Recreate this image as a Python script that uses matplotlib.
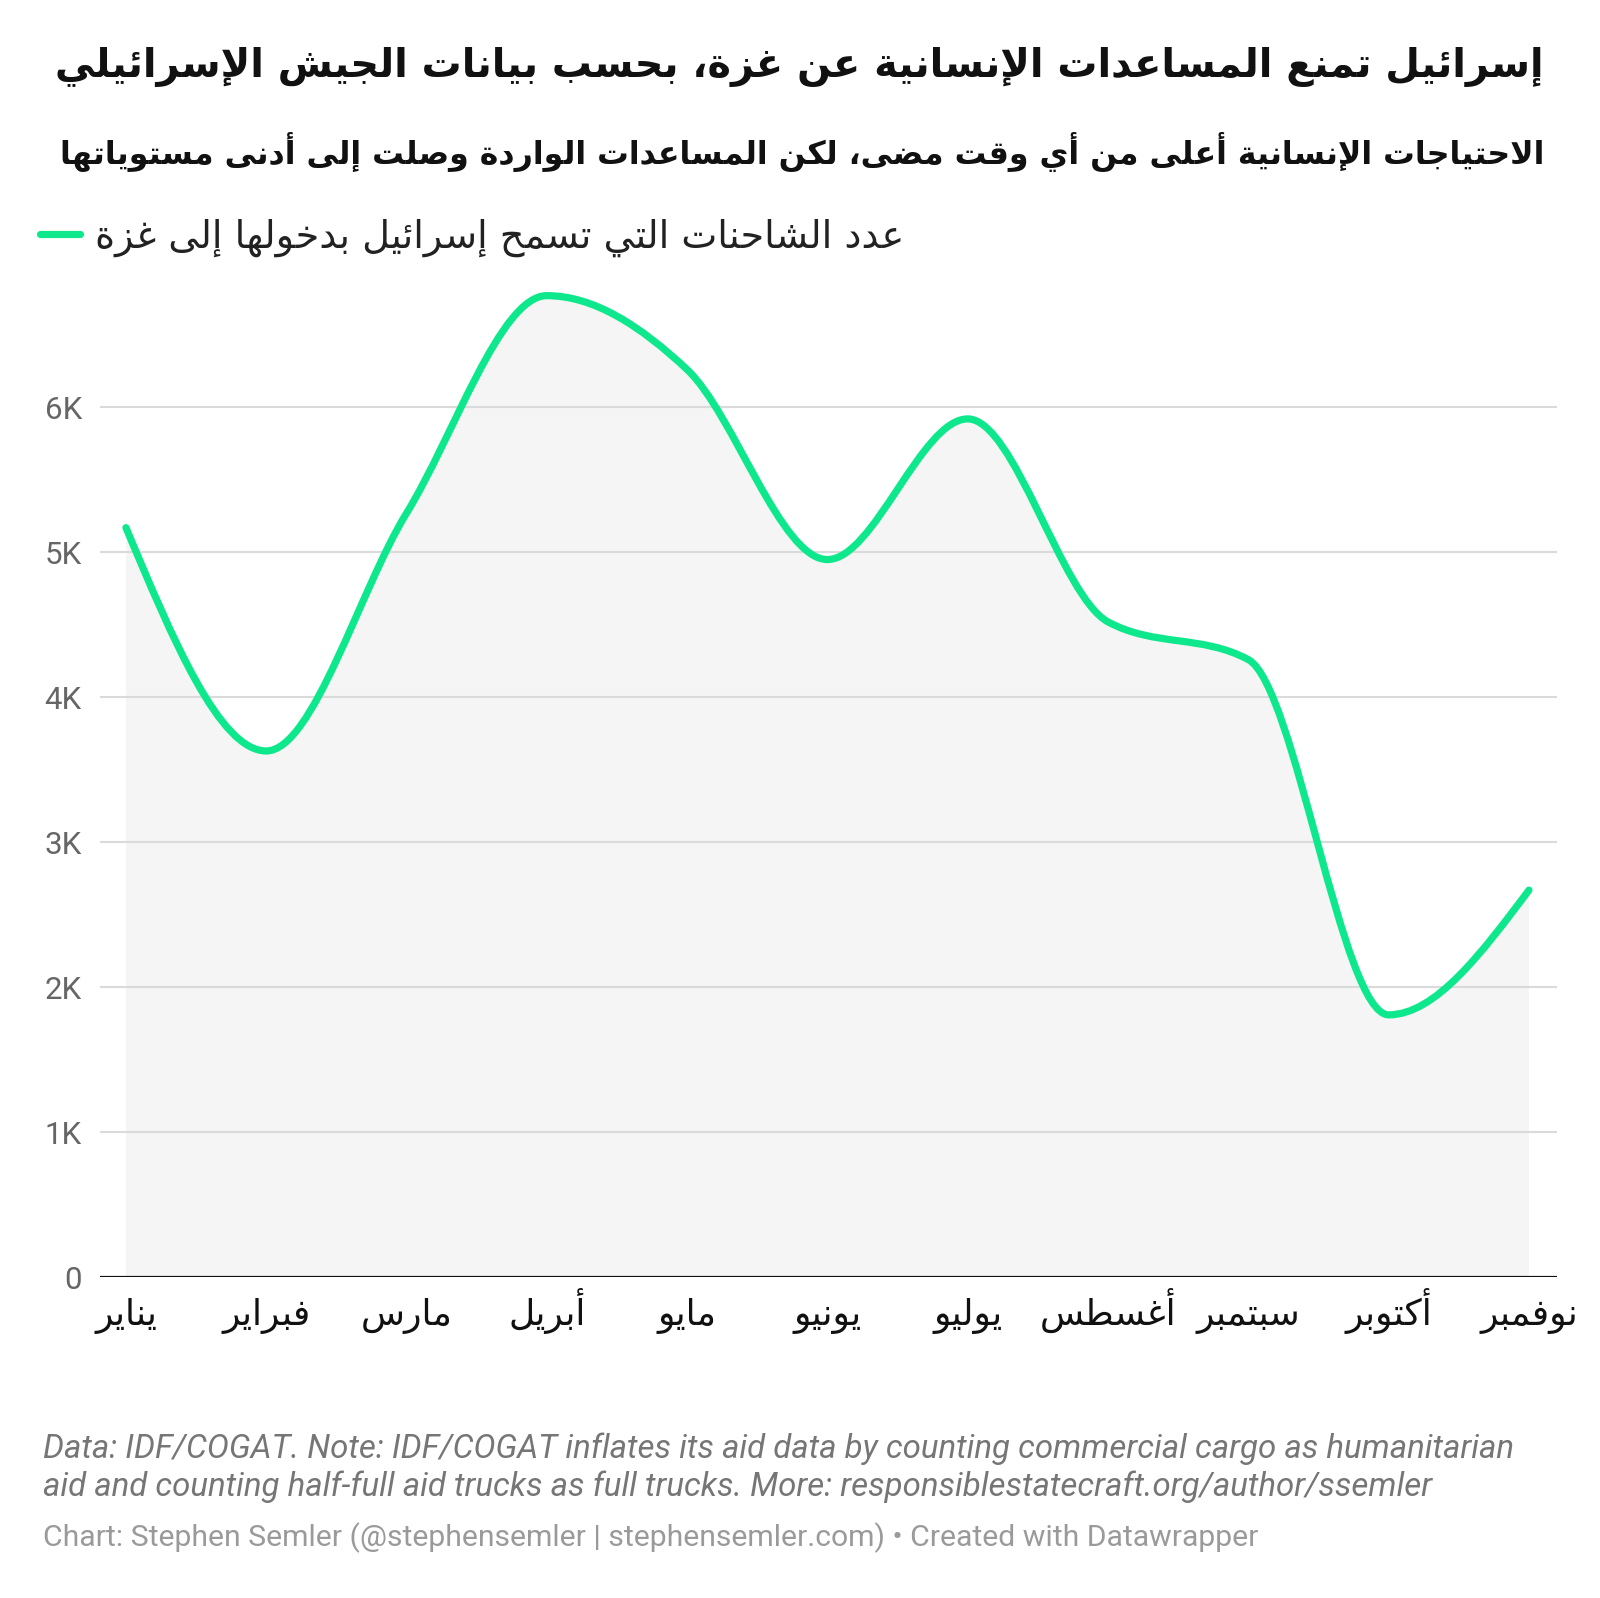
import numpy as np
import matplotlib
matplotlib.use("Agg")
import matplotlib.pyplot as plt
from matplotlib.path import Path
from matplotlib.patches import PathPatch
from matplotlib.lines import Line2D

# chart texts and values
title = "إسرائيل تمنع المساعدات الإنسانية عن غزة، بحسب بيانات الجيش الإسرائيلي"
subtitle = "الاحتياجات الإنسانية أعلى من أي وقت مضى، لكن المساعدات الواردة وصلت إلى أدنى مستوياتها"
series_name = "عدد الشاحنات التي تسمح إسرائيل بدخولها إلى غزة"
months = ["يناير", "فبراير", "مارس", "أبريل", "مايو", "يونيو",
          "يوليو", "أغسطس", "سبتمبر", "أكتوبر", "نوفمبر"]
trucks = [5170, 3630, 5270, 6770, 6260, 4950, 5920, 4520, 4260, 1810, 2670]
y_ticks = [0, 1000, 2000, 3000, 4000, 5000, 6000]
y_tick_labels = ["0", "1K", "2K", "3K", "4K", "5K", "6K"]
note_lines = [
    "Data: IDF/COGAT. Note: IDF/COGAT inflates its aid data by counting commercial cargo as humanitarian",
    "aid and counting half-full aid trucks as full trucks. More: responsiblestatecraft.org/author/ssemler",
]
credit = "Chart: Stephen Semler (@stephensemler | stephensemler.com) \u2022 Created with Datawrapper"

GREEN = "#0de88c"
W, H = 1600, 1598

# matplotlib has no arabic shaping, so pick presentation forms by hand
ARABIC = "ءآأؤإئابةتثجحخدذرزسشصضطظعغفقكلمنهوىي"
N_FORMS = [1, 2, 2, 2, 2, 4, 2, 4, 2, 4, 4, 4, 4, 4, 2, 2, 2, 2,
           4, 4, 4, 4, 4, 4, 4, 4, 4, 4, 4, 4, 4, 4, 4, 2, 2, 4]
FORMS = {}
code = 0xFE80
for ch, n in zip(ARABIC, N_FORMS):
    FORMS[ch] = (code, n)
    code += n
LAM_ALEF = {"آ": 0xFEF5, "أ": 0xFEF7, "إ": 0xFEF9, "ا": 0xFEFB}


def ar(text):
    units = []
    i = 0
    while i < len(text):
        c = text[i]
        if c == "ل" and i + 1 < len(text) and text[i + 1] in LAM_ALEF:
            units.append((LAM_ALEF[text[i + 1]], 2))
            i += 2
        elif c in FORMS:
            units.append(FORMS[c])
            i += 1
        else:
            units.append((c, 0))
            i += 1
    out = []
    for j, (base, n) in enumerate(units):
        if n == 0:
            out.append(base)
            continue
        prev = n >= 2 and j > 0 and units[j - 1][1] == 4
        nxt = n == 4 and j + 1 < len(units) and units[j + 1][1] >= 2
        idx = 3 if (prev and nxt) else 2 if nxt else 1 if prev else 0
        out.append(chr(base + idx))
    return "".join(out)[::-1]


def monotone_tangents(x, y):
    # same slopes as d3.curveMonotoneX
    n = len(x)
    t = np.zeros(n)
    for i in range(1, n - 1):
        h0, h1 = x[i] - x[i - 1], x[i + 1] - x[i]
        s0, s1 = (y[i] - y[i - 1]) / h0, (y[i + 1] - y[i]) / h1
        p = (s0 * h1 + s1 * h0) / (h0 + h1)
        t[i] = (np.sign(s0) + np.sign(s1)) * min(abs(s0), abs(s1), 0.5 * abs(p))
    t[0] = (3 * (y[1] - y[0]) / (x[1] - x[0]) - t[1]) / 2
    t[-1] = (3 * (y[-1] - y[-2]) / (x[-1] - x[-2]) - t[-2]) / 2
    return t


def fit_width(txt, target_px):
    # scale font so the rendered text is target_px wide
    r = fig.canvas.get_renderer()
    w = txt.get_window_extent(r).width
    txt.set_fontsize(txt.get_fontsize() * target_px / w)


x = np.arange(len(trucks), dtype=float)
y = np.array(trucks, dtype=float)
t = monotone_tangents(x, y)
verts = [(x[0], y[0])]
codes = [Path.MOVETO]
for i in range(len(x) - 1):
    dx = (x[i + 1] - x[i]) / 3
    verts += [(x[i] + dx, y[i] + dx * t[i]),
              (x[i + 1] - dx, y[i + 1] - dx * t[i + 1]),
              (x[i + 1], y[i + 1])]
    codes += [Path.CURVE4] * 3
line_path = Path(verts, codes)
area_path = Path(verts + [(x[-1], 0), (x[0], 0), (x[0], y[0])],
                 codes + [Path.LINETO, Path.LINETO, Path.CLOSEPOLY])

fig = plt.figure(figsize=(W / 100, H / 100), dpi=100, facecolor="white")

# axes placed in pixel terms of the reference
ax_left, ax_right, ax_top, ax_bottom = 100, 1557, 262.3, 1277.3
ax = fig.add_axes([ax_left / W, 1 - ax_bottom / H,
                   (ax_right - ax_left) / W, (ax_bottom - ax_top) / H])
ax.set_xlim(-0.185, 10.2)
ax.set_ylim(0, 7000)
for s in ax.spines.values():
    s.set_visible(False)

for v in y_ticks[1:]:
    ax.axhline(v, color="#dadada", lw=1.5, zorder=1)
ax.add_patch(PathPatch(area_path, facecolor="#f5f5f5", edgecolor="none", zorder=0.5))
ax.axhline(0, color="#111111", lw=2.3, zorder=3)
ax.add_patch(PathPatch(line_path, fill=False, edgecolor=GREEN, lw=5.2,
                       capstyle="round", joinstyle="round", zorder=4))

ax.set_yticks(y_ticks, y_tick_labels)
ax.tick_params(axis="y", length=0, pad=13, labelsize=22.5, labelcolor="#666666")
for lab in ax.get_yticklabels():
    lab.set_fontfamily("Roboto")

# month labels share one baseline, as in the reference
ax.set_xticks(x, [""] * len(x))
ax.tick_params(axis="x", length=0)
base_y = (ax_bottom - 1325) / (ax_bottom - ax_top)
for xi, m in zip(x, months):
    ax.text(xi, base_y, ar(m), transform=ax.get_xaxis_transform(),
            ha="center", va="baseline", fontsize=26, family="DejaVu Sans",
            color="#111111", clip_on=False)

# header
t_title = fig.text(1544 / W, 1 - 67 / H, ar(title), ha="right", va="center",
                   fontsize=28, fontweight="bold", family="DejaVu Sans", color="#111111")
t_sub = fig.text(1544 / W, 1 - 153 / H, ar(subtitle), ha="right", va="center",
                 fontsize=23, fontweight="bold", family="DejaVu Sans", color="#111111")

handle = Line2D([], [], color=GREEN, lw=5.2, solid_capstyle="round")
leg = fig.legend([handle], [ar(series_name)], loc="center left",
                 bbox_to_anchor=(40 / W, 1 - 238 / H), frameon=False,
                 borderpad=0, borderaxespad=0, handlelength=1.05, handletextpad=0.4,
                 prop={"family": "DejaVu Sans", "size": 27.5})
for txt in leg.get_texts():
    txt.set_color("#222222")

# footer
notes = []
for k, line in enumerate(note_lines):
    notes.append(fig.text(43 / W, 1 - (1449 + 38 * k) / H, line, ha="left", va="center",
                          fontsize=23, style="italic", family="Roboto", color="#767676"))
t_credit = fig.text(43 / W, 1 - 1538 / H, credit, ha="left", va="center",
                    fontsize=21.5, family="Roboto", color="#9a9a9a")

fig.canvas.draw()
fit_width(t_title, 1488)
fit_width(t_sub, 1488)
fit_width(notes[0], 1473)
notes[1].set_fontsize(notes[0].get_fontsize())
fit_width(t_credit, 1216)

fig.savefig("out.png", dpi=100, facecolor="white")
